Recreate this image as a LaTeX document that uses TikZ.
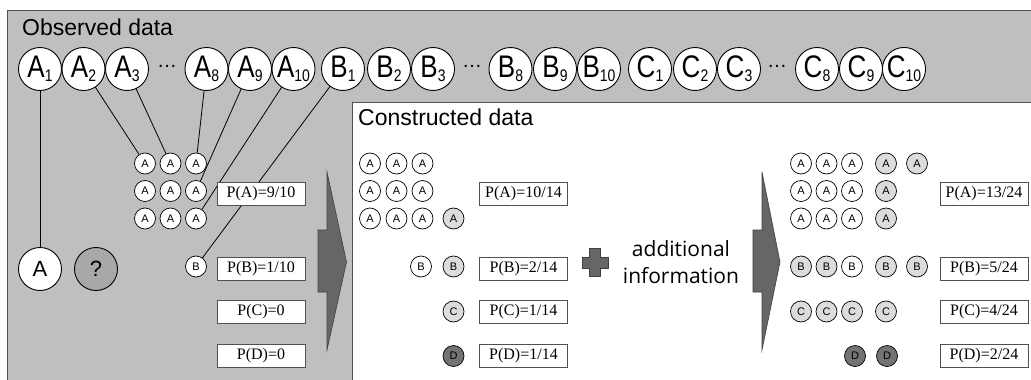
\documentclass[tikz,border=0pt]{standalone}
\usepackage{fontspec}
\setmainfont{Liberation Sans}
\newfontfamily\probfont{Liberation Serif}
\newfontfamily\infofont{Open Sans}

\definecolor{panelgray}{HTML}{BFBFBF}
\definecolor{edgegray}{HTML}{505050}
\definecolor{lightfill}{HTML}{DCDCDC}
\definecolor{darkfill}{HTML}{737373}
\definecolor{midfill}{HTML}{A8A8A8}
\definecolor{arrowgray}{HTML}{666666}

% label of an observed item: letter with subscript, drawn a little taller
\newcommand{\obslab}[2]{\scalebox{1}[1.2]{#1\raisebox{-0.25ex}{\fontsize{14}{14}\selectfont #2}}}

\tikzset{
  obs/.style={circle, draw=black, fill=white, line width=0.9pt,
              minimum size=43pt, inner sep=0pt, font=\fontsize{26}{26}\selectfont},
  bigc/.style={circle, draw=black, line width=0.9pt,
              minimum size=43pt, inner sep=0pt, font=\fontsize{22}{22}\selectfont},
  item/.style={circle, draw=black, fill=white, line width=0.7pt,
              minimum size=21pt, inner sep=0pt, font=\fontsize{11}{11}\selectfont},
  itemlt/.style={item, fill=lightfill},
  itemdk/.style={item, fill=darkfill},
  prob/.style={draw=edgegray, fill=white, line width=0.8pt,
              minimum width=88pt, minimum height=23pt, inner sep=0pt,
              font=\probfont\fontsize{16}{16}\selectfont},
  title/.style={anchor=base west, inner sep=0pt, font=\fontsize{23}{23}\selectfont},
  dots/.style={inner sep=0pt, font=\fontsize{20}{20}\selectfont},
  link/.style={draw=black, line width=0.8pt},
  bigarrow/.style={fill=arrowgray, draw=black!75, line width=0.6pt}
}

\begin{document}
\begin{tikzpicture}[x=1pt, y=-1pt]
\useasboundingbox (0,0) rectangle (1031,380);
\clip (0,0) rectangle (1031,380);

% panels
\draw[fill=panelgray, draw=edgegray, line width=0.9pt] (7,10) rectangle (1045,395);
\draw[fill=white, draw=edgegray, line width=0.9pt] (352,102) rectangle (1045,395);

\node[title] (tobs) at (22,35) {Observed data};
\node[title] (tcon) at (358,125) {Constructed data};

% observed items
\node[obs] (A1)  at (40,69)    {\obslab{A}{1}};
\node[obs] (A2)  at (83.5,69)  {\obslab{A}{2}};
\node[obs] (A3)  at (127,69)   {\obslab{A}{3}};
\node[dots] (dA) at (167,66)   {…};
\node[obs] (A8)  at (206.5,69) {\obslab{A}{8}};
\node[obs] (A9)  at (250,69)   {\obslab{A}{9}};
\node[obs] (A10) at (293.5,69) {\obslab{A}{10}};
\node[obs] (B1)  at (343,69)   {\obslab{B}{1}};
\node[obs] (B2)  at (389,69)   {\obslab{B}{2}};
\node[obs] (B3)  at (433,69)   {\obslab{B}{3}};
\node[dots] (dB) at (472,66)   {…};
\node[obs] (B8)  at (510.5,69) {\obslab{B}{8}};
\node[obs] (B9)  at (555,69)   {\obslab{B}{9}};
\node[obs] (B10) at (599,69)   {\obslab{B}{10}};
\node[obs] (C1)  at (650,69)   {\obslab{C}{1}};
\node[obs] (C2)  at (695,69)   {\obslab{C}{2}};
\node[obs] (C3)  at (739,69)   {\obslab{C}{3}};
\node[dots] (dC) at (777,66)   {…};
\node[obs] (C8)  at (817,69)   {\obslab{C}{8}};
\node[obs] (C9)  at (861,69)   {\obslab{C}{9}};
\node[obs] (C10) at (904,69)   {\obslab{C}{10}};

% query item and unknown label
\node[bigc, fill=white] (qA) at (40,269) {A};
\node[bigc, fill=midfill] (qQ) at (96,269) {?};

% neighbours found in the observed data
\foreach \r/\y in {1/163.5, 2/191, 3/218.5}{
  \node[item] (g\r1) at (145,\y)   {A};
  \node[item] (g\r2) at (170.5,\y) {A};
  \node[item] (g\r3) at (196,\y)   {A};
}
\node[item] (gB) at (196,266.5) {B};

\draw[link] (A1) -- (qA);
\draw[link] (A2) -- (g11);
\draw[link] (A3) -- (g12);
\draw[link] (A8) -- (g13);
\draw[link] (A9) -- (g23);
\draw[link] (A10) -- (g33);
\draw[link] (B1) -- (gB);

\node[prob] (pA1) at (261,193.5) {P(A)=9/10};
\node[prob] (pB1) at (261,268.5) {P(B)=1/10};
\node[prob] (pC1) at (261,312)   {P(C)=0};
\node[prob] (pD1) at (261,356)   {P(D)=0};

% step arrows
\draw[bigarrow] (318,230) -- (327,230) -- (327,172) -- (346.5,262)
  -- (327,350) -- (327,292) -- (318,292) -- cycle;
\draw[bigarrow] (753,230) -- (762,230) -- (762,172) -- (780,262)
  -- (762,350) -- (762,292) -- (753,292) -- cycle;

% constructed data
\foreach \r/\y in {1/163.5, 2/191, 3/218.5}{
  \node[item] (c\r1) at (370,\y)   {A};
  \node[item] (c\r2) at (396.5,\y) {A};
  \node[item] (c\r3) at (422.5,\y) {A};
}
\node[itemlt] (cA)  at (453.5,218.5) {A};
\node[item]   (cBw) at (421,266.5)   {B};
\node[itemlt] (cBg) at (453.5,266.5) {B};
\node[itemlt] (cC)  at (453.5,311.5) {C};
\node[itemdk] (cD)  at (453.5,356)   {D};

\node[prob] (pA2) at (523.5,193.5) {P(A)=10/14};
\node[prob] (pB2) at (523.5,268.5) {P(B)=2/14};
\node[prob] (pC2) at (523.5,312)   {P(C)=1/14};
\node[prob] (pD2) at (523.5,356)   {P(D)=1/14};

% plus sign and additional information
\draw[bigarrow] (589.5,248.5) -- (600.5,248.5) -- (600.5,257) -- (608,257)
  -- (608,268) -- (600.5,268) -- (600.5,276.5) -- (589.5,276.5)
  -- (589.5,268) -- (582,268) -- (582,257) -- (589.5,257) -- cycle;
\node[anchor=base, inner sep=0pt, font=\infofont\fontsize{21}{21}\selectfont]
  (info1) at (681,256) {additional};
\node[anchor=base, inner sep=0pt, font=\infofont\fontsize{21}{21}\selectfont]
  (info2) at (681,283) {information};

% constructed data with additional information
\foreach \r/\y in {1/163.5, 2/191, 3/218.5}{
  \node[item] (r\r1) at (801,\y)   {A};
  \node[item] (r\r2) at (826.5,\y) {A};
  \node[item] (r\r3) at (852,\y)   {A};
  \node[itemlt] (r\r4) at (886,\y) {A};
}
\node[itemlt] (r15) at (917,163.5) {A};

\node[itemlt] (rB1) at (801,266.5)   {B};
\node[itemlt] (rB2) at (826.5,266.5) {B};
\node[item]   (rB3) at (852,266.5)   {B};
\node[itemlt] (rB4) at (886,266.5)   {B};
\node[itemlt] (rB5) at (917,266.5)   {B};

\node[itemlt] (rC1) at (801,311.5)   {C};
\node[itemlt] (rC2) at (826.5,311.5) {C};
\node[itemlt] (rC3) at (852,311.5)   {C};
\node[itemlt] (rC4) at (886,311.5)   {C};

\node[itemdk] (rD1) at (855,356) {D};
\node[itemdk] (rD2) at (887,356) {D};

\node[prob] (pA3) at (984,193.5) {P(A)=13/24};
\node[prob] (pB3) at (984,268.5) {P(B)=5/24};
\node[prob] (pC3) at (984,312)   {P(C)=4/24};
\node[prob] (pD3) at (984,356)   {P(D)=2/24};
\end{tikzpicture}
\end{document}
